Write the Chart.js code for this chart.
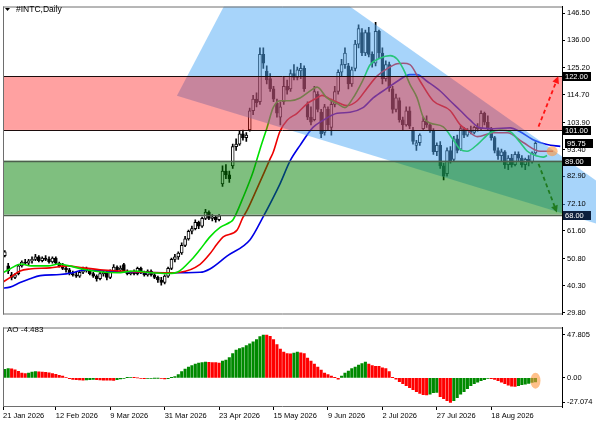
<!DOCTYPE html>
<html><head><meta charset="utf-8">
<script src="https://cdn.jsdelivr.net/npm/chart.js@4.4.1/dist/chart.umd.min.js"></script>
<style>
html,body{margin:0;padding:0;background:#fff;}
#wrap{position:relative;width:596px;height:425px;overflow:hidden;}
#c1{position:absolute;left:0;top:0;}
#c2{position:absolute;left:0;top:321px;}
</style></head><body>
<div id="wrap"><canvas id="c1" width="596" height="321"></canvas><canvas id="c2" width="596" height="104"></canvas></div>
<script>
// ---------- DATA ----------
const symbolTitle = '#INTC,Daily';
const dateLabels = ['21 Jan 2026','12 Feb 2026','9 Mar 2026','31 Mar 2026','23 Apr 2026','15 May 2026','9 Jun 2026','2 Jul 2026','27 Jul 2026','18 Aug 2026'];
const dateBars = [0,16,32,48,64,80,96,112,128,144];
const priceTicks = [146.5,136,125.2,114.7,103.9,93.4,82.9,72.1,61.6,50.8,40.3,29.8];
const aoTicks = [47.805,0,-27.074];

const openP = [53,
 52,48,44.5,43.5,45,48,49.5,49,50,50.5,
 51.5,50,51,50.5,49.5,51,49,48,47,46.5,
 45,44.5,44,45.5,47,46,45,44,43,45,
 45.5,43.5,46,47.5,46.5,48.5,46,45,45.5,45,
 47,45.5,44.5,46,44.5,43.5,42.5,41.5,44,47,
 50.5,51.5,53,56,58.5,61.5,62.5,65,63.5,66.5,
 69,66.5,67,66,80,85,83.5,87,94.5,95.5,
 99.5,98,101,108.5,113,112,130.5,124,121,117,
 111.5,106,112,118,117,123,121.5,124,125,111,
 106,105,115,108,100,109,102,111,116,123.5,
 126.5,126,119,125,134.5,139,131,139,130.5,127,
 139.5,131,121,126.5,117,109,112.5,105,103,108.5,
 101,95,96,101.5,104.5,103,100.5,92.5,95,87,
 84,93,89.5,97.5,93.5,101.5,99,101,100,102,
 101.5,107.5,104,101.5,98,93,91,92.5,87.5,90,
 87.5,91.5,90,87.5,89.5,88.5,92];
const highP = [54.5,
 54,49,45.5,45,48.5,50,50.5,50.5,51.5,52.5,
 52,51.5,52,51.5,51.5,51.5,49.5,49,48,47,
 46,45.5,46,47.5,47.5,46.5,45.5,44.5,45.5,46,
 46,46.5,48.5,48,48,49,46.5,46,46.5,47.5,
 47.5,46,46.5,46.5,45,44,43.5,44.5,47.5,51,
 52.5,53.5,57,59.5,62,63.5,66,65.5,67,70,
 69.5,68,67.5,68,87,87.5,85,95.5,97.5,100.5,
 101,100,109.5,114.5,115.5,133,133,126,123,118,
 113,112,121.5,120.5,124.5,126.5,125.5,127,126,112,
 110,118,116,109,111,110,113,118,124.5,128.5,
 133,127,125.5,136,142,140.5,140,141,131.5,143,
 140,133,128,127.5,118,115,113.5,106,110,110,
 102,97,99.5,106,106.5,103.5,101.5,96,96.5,88,
 94,94.5,98.5,99,102.5,102,101.5,102.5,102.5,103.5,
 108.5,108,106.5,102,98.5,94,93.5,93,91,91.5,
 92.5,92.5,91,90,91,92.5,96.5];
const lowP = [52,
 51.5,45,42.5,43,44.5,47.5,48.5,48.5,49,50,
 49.5,49.5,50,49,49,48.5,47.5,46.5,45.5,44.5,
 44,43.5,43.5,45,45.5,44.5,43.5,42,42.5,44,
 42.5,43,45.5,46,45.5,45.5,44.5,44.5,44.5,44.5,
 45,44,44,44,43,41.5,40.5,41,43.5,46.5,
 49.5,50.5,52.5,55.5,58,60.5,62,62.5,63,66,
 66,65.5,65,65.5,79,82,80.5,86,93,95,
 97,96.5,100.5,107,110,111,125,119,116,112,
 106,103,111,115,116,120.5,120.5,121,116,105,
 103,104.5,108,98,99,101,99,110,115,122,
 125,117,118,124,133,130,130,129.5,125.5,126,
 129,119,120,116,107.5,108,104,101,102.5,101.5,
 95.5,93,95,101,102,100,91.5,91,86,81.5,
 83,88,89,92,93,98,98.5,99.5,99.5,100.5,
 101,103,101,97,92,89.5,89,86,85.5,86.5,
 87,89,86.5,85.5,87,88,91.5];
const closeP = [54,
 53.5,46,43.5,44.5,48,49.5,49,50,50.5,51.5,
 50,51,50.5,49.5,51,49,48,47,46.5,45,
 44.5,44,45.5,47,46,45,44,43,45,45.5,
 43.5,46,47.5,46.5,47,46,45,45.5,45,47,
 45.5,44.5,46,44.5,43.5,42.5,41.5,44,47,50.5,
 51.5,53,56,58.5,61.5,62.5,65,63.5,66.5,69,
 66.5,67,66,67.5,85,83.5,82,94.5,95.5,99.5,
 98,99,108.5,113,111.5,130.5,127,120.5,117,113,
 107.5,110,118,116.5,123,121.5,124.5,125,117,106,
 104,116,109,99.5,110,103,111,116,123.5,126.5,
 131,119,124.5,134.5,140.5,131,139,130.5,127,139.5,
 131,121,126.5,117.5,109,113.5,105,103,108.5,102.5,
 96.5,96,99,104.5,103,101,92.5,95,87,83,
 93,89,97.5,93,101.5,99,101,100,102,101.5,
 107.5,104,101.5,98,93,91,92.5,87.5,90,87.5,
 91.5,90,87.5,89.5,88.5,92,95.75];

const aoValues = [9.0,
 9.5,10.5,10.2,9,7.5,5.5,4.8,5.5,6.5,7,
 6.8,6.6,6.3,5.8,5,4,3,2,0.5,-0.8,
 -1.5,-2,-2.3,-2.4,-2.1,-1.8,-1.6,-1.9,-2.2,-2.4,
 -2.5,-2.6,-2.7,-2.0,-1.2,-0.5,0.2,0.6,0.4,0,
 -0.4,-0.7,-0.5,-0.3,-0.2,-0.1,-0.6,-1.2,-0.8,0.2,
 1.5,3.7,7,10,12,13.7,15.3,16.5,17,17.7,
 17.5,17.2,17,16.6,18.7,20,22.7,27,31,32.7,
 33.7,36,38,40.3,42.7,46,47.805,47.6,46.3,42.7,
 37,32,28.7,27,26.8,27.7,28.7,28,27,22,
 18.7,15.3,12,8.7,5.3,3.7,2,0.3,-1.3,2,
 5.3,7.7,10.3,12,14.3,16,17.7,15.3,13.7,13,
 12.8,11.3,10.3,7,0.3,-1.3,-4,-6.3,-8.7,-10.7,
 -13,-15.3,-17.3,-18.7,-19,-18,-16.3,-16,-20.7,-23,
 -25.3,-27.074,-25.3,-22,-18,-15.3,-12,-8.7,-6.3,-4.7,
 -3,-2,-0.6,-0.8,-1.5,-3,-4.7,-6.3,-8,-9,
 -9.3,-8.7,-7.5,-6.8,-6,-5,-4.483];

// Alligator lines [bar, price]
const lipsLine = [[0,45],[2.5,46.8],[5.8,48.7],[8.7,48],[13.7,48],[16.8,48.7],[19.9,48],[23.7,46.8],[28.8,45.7],[34,45.3],[39,46],[44,45.3],[49,45],[52,45.7],[56,50.6],[58.4,54.4],[61.3,59.3],[64.3,63],[67.2,65],[68.1,66],[71,74.5],[74,84.7],[76,93.4],[78.1,102],[79.9,109.7],[81.9,112.4],[84.9,112.4],[87.8,113.5],[91.6,117],[92.8,117.7],[95.7,113.5],[98.7,111.3],[101,109.7],[103.4,113.5],[106.3,120.5],[108.4,126.4],[111.3,129],[114.3,130],[116.3,128.7],[118.1,124.9],[120.1,118.8],[122.2,113.5],[124,106],[126,103.7],[129.9,102.2],[132.8,97.2],[134.9,93.4],[136.9,92.7],[139.9,95.3],[143.7,99.9],[146.6,101],[149.6,100.3],[152.5,96.1],[154.6,92.7],[157.5,90.8],[159.3,90.4],[160.4,91]];
const teethLine = [[0,41.3],[2.5,43.4],[5.5,46],[8.4,46.8],[14.3,47.2],[19.3,48],[24,47.2],[29,46.5],[38.7,45.7],[48.7,45.3],[52.5,45.5],[58.4,48.6],[61.3,52.7],[63.4,56.5],[65.2,59.3],[69.3,62],[71,66.9],[72.2,69.6],[75.2,78.3],[79,89.7],[79.9,92.3],[81.9,100.5],[84,104.8],[86.9,107.5],[89.9,111.3],[92.8,113.5],[94.3,114.5],[96.6,113.1],[99.6,111.3],[101.6,110.5],[104.6,112.4],[107.5,117.3],[110.4,122],[113.4,124.9],[116.3,126.8],[118.1,127],[120.1,126.5],[123.1,120],[126.9,112.4],[131.9,108.6],[134.9,103],[136.9,101],[139.9,98.4],[144.6,99.9],[148.7,99.9],[153.4,96.1],[158.4,92.7],[162.2,92.7]];
const jawLine = [[0,39.3],[2.5,39.7],[5.5,41.5],[8.4,43],[11.4,44.2],[17.2,44.6],[21,45.3],[24,46.3],[26.9,46.3],[34,45.7],[48.7,45.3],[58.4,45.5],[61.3,46.8],[66.3,51.8],[73.1,58.2],[76.9,67],[81.9,80],[84.9,89],[87.8,95],[91.6,102],[94.6,104.8],[98.7,107.5],[102.5,107.9],[106.3,109.7],[109.3,113.5],[113.4,117.3],[116.3,119.9],[120.1,122.6],[122.2,122.6],[125.1,120],[129,116.2],[131.9,112.4],[134.9,108.6],[137.8,104.8],[140.7,101.8],[144.6,101.5],[149.6,101.8],[152.5,100.3],[156.3,97.2],[160.4,95.3],[164.3,94.6]];

// annotations (bar, price)
const triangleAnchors = [[51.6,114.3],[75.4,174.5],[206.3,51.8]];
const resistanceZone = [101,122];
const supportZone = [68,89];
const levelLines = [122,101,89,68];
const priceTags = [122,101,95.75,89,68];
const lastPrice = 95.75;
const arrowUp = [[157.9,102.3],[163.7,121.9]];
const arrowDown = [[157.9,87.8],[163.3,68.8]];
const markMain = [161.9,92.7];
const markAO = [157,-3];

// axis ranges
const X_MIN = 0.47, X_MAX = 164.8;
const Y_MIN = 29.03, Y_MAX = 149.15;
const AO_MIN = -32.3, AO_MAX = 56.1;

// ---------- DRAW ----------
const FONT = 'Liberation Sans';
const idx = closeP.map((_, k) => k);
const wicks = idx.map(k => ({x: k, y: [lowP[k], highP[k]]}));
const bodies = idx.map(k => ({x: k, y: [Math.min(openP[k], closeP[k]), Math.max(openP[k], closeP[k])]}));
const bodyColors = idx.map(k => closeP[k] >= openP[k] ? '#ffffff' : '#000000');

function drawArrow(ctx, x0, y0, x1, y1, color) {
  const ang = Math.atan2(y1 - y0, x1 - x0), head = 7, hw = 3.5;
  const bx = x1 - head * Math.cos(ang), by = y1 - head * Math.sin(ang);
  ctx.save();
  ctx.strokeStyle = color; ctx.lineWidth = 1.8; ctx.setLineDash([4, 3]);
  ctx.beginPath(); ctx.moveTo(x0, y0); ctx.lineTo(bx, by); ctx.stroke();
  ctx.setLineDash([]); ctx.fillStyle = color;
  ctx.beginPath(); ctx.moveTo(x1, y1);
  ctx.lineTo(bx + hw * Math.sin(ang), by - hw * Math.cos(ang));
  ctx.lineTo(bx - hw * Math.sin(ang), by + hw * Math.cos(ang));
  ctx.closePath(); ctx.fill();
  ctx.restore();
}

function frameLines(ctx, a, top, bottom) {
  ctx.save();
  ctx.strokeStyle = '#6e6e6e'; ctx.lineWidth = 1;
  ctx.beginPath();
  ctx.moveTo(a.left + 0.5, a.top); ctx.lineTo(a.left + 0.5, a.bottom);
  if (top) { ctx.moveTo(a.left, a.top + 0.5); ctx.lineTo(a.right, a.top + 0.5); }
  if (bottom) { ctx.moveTo(a.left, a.bottom - 0.5); ctx.lineTo(a.right, a.bottom - 0.5); }
  ctx.stroke();
  ctx.restore();
}

const mainOverlay = {
  id: 'mainOverlay',
  afterDatasetsDraw(chart) {
    const {ctx, chartArea: a, scales} = chart;
    const X = v => scales.x.getPixelForValue(v), Y = v => scales.y.getPixelForValue(v);
    ctx.save();
    ctx.beginPath(); ctx.rect(a.left, a.top, chart.width - a.left, a.bottom - a.top); ctx.clip();
    ctx.beginPath();
    triangleAnchors.forEach((pt, i) => { const px = X(pt[0]), py = Y(pt[1]); if (i) ctx.lineTo(px, py); else ctx.moveTo(px, py); });
    ctx.closePath();
    ctx.fillStyle = 'rgba(80,170,245,0.5)';
    ctx.fill();
    ctx.restore();

    ctx.save();
    ctx.beginPath(); ctx.rect(a.left, a.top, a.right - a.left, a.bottom - a.top); ctx.clip();
    const band = (lo, hi, color) => { const y1 = Y(hi), y0 = Y(lo); ctx.fillStyle = color; ctx.fillRect(a.left, y1, a.right - a.left, y0 - y1); };
    band(resistanceZone[0], resistanceZone[1], 'rgba(255,0,0,0.37)');
    band(supportZone[0], supportZone[1], 'rgba(0,128,0,0.5)');
    levelLines.forEach(v => {
      ctx.strokeStyle = v > lastPrice ? '#1c0c0c' : '#4d5f4d';
      ctx.lineWidth = v > lastPrice ? 1 : 1.4;
      const py = Math.round(Y(v)) + 0.5;
      ctx.beginPath(); ctx.moveTo(a.left, py); ctx.lineTo(a.right, py); ctx.stroke();
    });
    drawArrow(ctx, X(arrowUp[0][0]), Y(arrowUp[0][1]), X(arrowUp[1][0]), Y(arrowUp[1][1]), '#ff1414');
    drawArrow(ctx, X(arrowDown[0][0]), Y(arrowDown[0][1]), X(arrowDown[1][0]), Y(arrowDown[1][1]), '#1f7a1f');
    ctx.fillStyle = 'rgba(255,150,60,0.6)';
    ctx.beginPath(); ctx.ellipse(X(markMain[0]), Y(markMain[1]), 5.5, 5, 0, 0, Math.PI * 2); ctx.fill();
    ctx.restore();
  },
  afterDraw(chart) {
    const {ctx, chartArea: a, scales} = chart;
    const Y = v => scales.y.getPixelForValue(v);
    frameLines(ctx, a, true, true);
    ctx.save();
    priceTags.forEach(v => {
      const py = Math.round(Y(v));
      ctx.fillStyle = v === supportZone[0] ? '#0d1f3d' : '#000000';
      const bx = v === lastPrice ? a.right + 3 : a.right + 1;
      ctx.fillRect(bx, py - 4, 28, 9);
      ctx.fillStyle = '#ffffff';
      ctx.font = '7.5px "' + FONT + '"';
      ctx.textBaseline = 'middle'; ctx.textAlign = 'left';
      ctx.fillText(v.toFixed(2), bx + 2, py + 0.5);
    });
    // title
    ctx.fillStyle = '#000';
    ctx.beginPath(); ctx.moveTo(5, 8); ctx.lineTo(10, 8); ctx.lineTo(7.5, 11); ctx.closePath(); ctx.fill();
    ctx.font = '8.5px "' + FONT + '"';
    ctx.textBaseline = 'middle'; ctx.textAlign = 'left';
    ctx.fillText(symbolTitle, 16, 9.5);
    ctx.restore();
  }
};

const aoOverlay = {
  id: 'aoOverlay',
  afterDatasetsDraw(chart) {
    const {ctx, chartArea: a, scales} = chart;
    ctx.save();
    ctx.beginPath(); ctx.rect(a.left, a.top, a.right - a.left, a.bottom - a.top); ctx.clip();
    ctx.fillStyle = 'rgba(255,150,60,0.6)';
    ctx.beginPath(); ctx.ellipse(scales.x.getPixelForValue(markAO[0]), scales.y.getPixelForValue(markAO[1]), 5, 8, 0, 0, Math.PI * 2); ctx.fill();
    ctx.restore();
  },
  afterDraw(chart) {
    const {ctx, chartArea: a} = chart;
    frameLines(ctx, a, true, true);
    ctx.save();
    ctx.fillStyle = '#000'; ctx.font = '8px "' + FONT + '"';
    ctx.textBaseline = 'middle'; ctx.textAlign = 'left';
    ctx.fillText('AO ' + aoValues[aoValues.length - 1], 7, 9);
    ctx.restore();
  }
};

const tickFont = {family: FONT, size: 7.5};

new Chart(document.getElementById('c1'), {
  type: 'bar',
  data: {datasets: [
    {type: 'line', label: 'Lips', data: lipsLine.map(p => ({x: p[0], y: p[1]})), borderColor: '#00e000', borderWidth: 1.6, pointRadius: 0, cubicInterpolationMode: 'monotone', order: -3},
    {type: 'line', label: 'Teeth', data: teethLine.map(p => ({x: p[0], y: p[1]})), borderColor: '#ee0000', borderWidth: 1.6, pointRadius: 0, cubicInterpolationMode: 'monotone', order: -2},
    {type: 'line', label: 'Jaw', data: jawLine.map(p => ({x: p[0], y: p[1]})), borderColor: '#0000e6', borderWidth: 1.6, pointRadius: 0, cubicInterpolationMode: 'monotone', order: -1},
    {label: 'Body', data: bodies, backgroundColor: bodyColors, borderColor: '#000', borderWidth: 1, borderSkipped: false, barThickness: 3, grouped: false, order: 1},
    {label: 'Wick', data: wicks, backgroundColor: '#000', borderWidth: 0, barThickness: 1, grouped: false, order: 2}
  ]},
  options: {
    responsive: false, animation: false, events: [],
    layout: {padding: {left: 3, top: 3, right: 0, bottom: 1}},
    plugins: {legend: {display: false}, tooltip: {enabled: false}},
    scales: {
      x: {type: 'linear', min: X_MIN, max: X_MAX, display: false, offset: false, grid: {offset: false}},
      y: {type: 'linear', position: 'right', min: Y_MIN, max: Y_MAX, beginAtZero: false,
          afterFit: s => { s.width = 34; },
          afterBuildTicks: s => { s.ticks = priceTicks.map(v => ({value: v})); },
          ticks: {callback: v => Number(v).toFixed(2), font: tickFont, color: '#000', padding: 2, autoSkip: false, z: 1},
          grid: {drawOnChartArea: false, drawTicks: true, tickLength: 3, color: '#000'},
          border: {display: true, color: '#000', z: 1}}
    }
  },
  plugins: [mainOverlay]
});

new Chart(document.getElementById('c2'), {
  type: 'bar',
  data: {datasets: [{label: 'AO', data: aoValues.map((v, k) => ({x: k, y: v})),
    backgroundColor: aoValues.map((v, k) => (k === 0 || v > aoValues[k - 1]) ? '#008a00' : '#ff0000'),
    barThickness: 2.4, grouped: false, borderWidth: 0}]},
  options: {
    responsive: false, animation: false, events: [],
    layout: {padding: {left: 3, top: 1, right: 0, bottom: 0}},
    plugins: {legend: {display: false}, tooltip: {enabled: false}},
    scales: {
      x: {type: 'linear', min: X_MIN, max: X_MAX, offset: false,
          afterFit: s => { s.height = 18; },
          afterBuildTicks: s => { s.ticks = dateBars.map(v => ({value: Math.max(v, X_MIN)})); },
          ticks: {callback: (v, i) => dateLabels[i], align: 'start', maxRotation: 0, minRotation: 0, autoSkip: false, font: tickFont, color: '#000', padding: 1},
          grid: {drawOnChartArea: false, drawTicks: true, tickLength: 3, color: '#000', offset: false},
          border: {display: false}},
      y: {type: 'linear', position: 'right', min: AO_MIN, max: AO_MAX, beginAtZero: false,
          afterFit: s => { s.width = 34; },
          afterBuildTicks: s => { s.ticks = aoTicks.map(v => ({value: v})); },
          ticks: {callback: v => v === 0 ? '0.00' : Number(v).toFixed(3), font: tickFont, color: '#000', padding: 2, autoSkip: false},
          grid: {drawOnChartArea: false, drawTicks: true, tickLength: 3, color: '#000'},
          border: {display: true, color: '#000'}}
    }
  },
  plugins: [aoOverlay]
});
</script>
</body></html>
